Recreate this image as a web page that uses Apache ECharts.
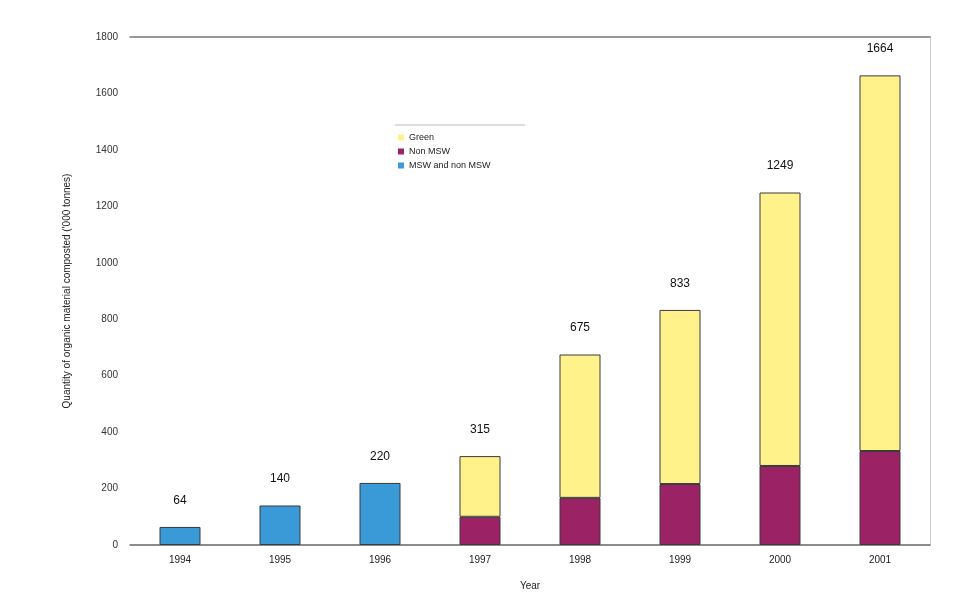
<!DOCTYPE html>
<html><head><meta charset="utf-8">
<script src="https://cdn.jsdelivr.net/npm/echarts@6/dist/echarts.min.js"></script>
<style>html,body{margin:0;padding:0;background:#fff}#c{width:980px;height:608px}</style>
</head><body><div id="c"></div>
<script>
const years = ['1994','1995','1996','1997','1998','1999','2000','2001'];
const greenWaste = [null, null, null, 215, 508, 617, 969, 1331];
const nonMsw = [null, null, null, 100, 167, 216, 280, 333];
const mswAndNonMsw = [64, 140, 220, null, null, null, null, null];
const totals = [64, 140, 220, 315, 675, 833, 1249, 1664];
const yTicks = [0, 200, 400, 600, 800, 1000, 1200, 1400, 1600, 1800];

const chart = echarts.init(document.getElementById('c'));
const bw = 41;
const border = {borderColor: '#3a3a3a', borderWidth: 1};
chart.setOption({
  animation: false,
  textStyle: {fontFamily: 'Liberation Sans, Arial, sans-serif'},
  grid: {left: 130, right: 50, top: 37, bottom: 63},
  legend: {
    data: ['Green', 'Non MSW', 'MSW and non MSW'],
    orient: 'vertical', left: 393, top: 128,
    itemWidth: 6, itemHeight: 6, itemGap: 5,
    icon: 'rect',
    itemStyle: {borderWidth: 0},
    textStyle: {fontSize: 9, color: '#222'}
  },
  graphic: [{type: 'line', shape: {x1: 395, y1: 125, x2: 525, y2: 125}, style: {stroke: '#bbb', lineWidth: 1}}],
  xAxis: [{
    type: 'category', data: years,
    name: 'Year', nameLocation: 'middle', nameGap: 36,
    nameTextStyle: {fontSize: 10, color: '#222'},
    axisLine: {lineStyle: {color: '#666', width: 1.5}},
    axisTick: {show: false},
    axisLabel: {fontSize: 10, color: '#222', margin: 10}
  }, {
    type: 'category', data: years, position: 'top',
    axisLine: {show: true, onZero: false, lineStyle: {color: '#777', width: 1.5}},
    axisTick: {show: false}, axisLabel: {show: false}
  }],
  yAxis: [{
    type: 'value', min: yTicks[0], max: yTicks[yTicks.length - 1], interval: 200,
    name: "Quantity of organic material composted ('000 tonnes)",
    nameLocation: 'middle', nameGap: 58, nameRotate: 90,
    nameTextStyle: {fontSize: 10, color: '#222'},
    axisLine: {show: false}, axisTick: {show: false},
    splitLine: {show: false},
    axisLabel: {fontSize: 10, color: '#333', margin: 12, formatter: v => String(v)}
  }, {
    type: 'value', min: 0, max: 1800, position: 'right',
    axisLine: {show: true, onZero: false, lineStyle: {color: '#ccc', width: 1}},
    axisTick: {show: false}, axisLabel: {show: false}, splitLine: {show: false}
  }],
  series: [
    {name: 'MSW and non MSW', type: 'bar', stack: 't', barWidth: bw, data: mswAndNonMsw,
     itemStyle: Object.assign({color: '#3a9ad8'}, border)},
    {name: 'Non MSW', type: 'bar', stack: 't', barWidth: bw, data: nonMsw,
     itemStyle: Object.assign({color: '#9c2266'}, border)},
    {name: 'Green', type: 'bar', stack: 't', barWidth: bw, data: greenWaste,
     itemStyle: Object.assign({color: '#fff28a'}, border)},
    {name: 'Total', type: 'line', data: totals, symbol: 'circle', symbolSize: 1,
     showSymbol: true, itemStyle: {opacity: 0},
     lineStyle: {opacity: 0}, silent: true,
     label: {show: true, position: 'top', distance: 20, fontSize: 12, color: '#111', opacity: 1}}
  ]
});
</script></body></html>
